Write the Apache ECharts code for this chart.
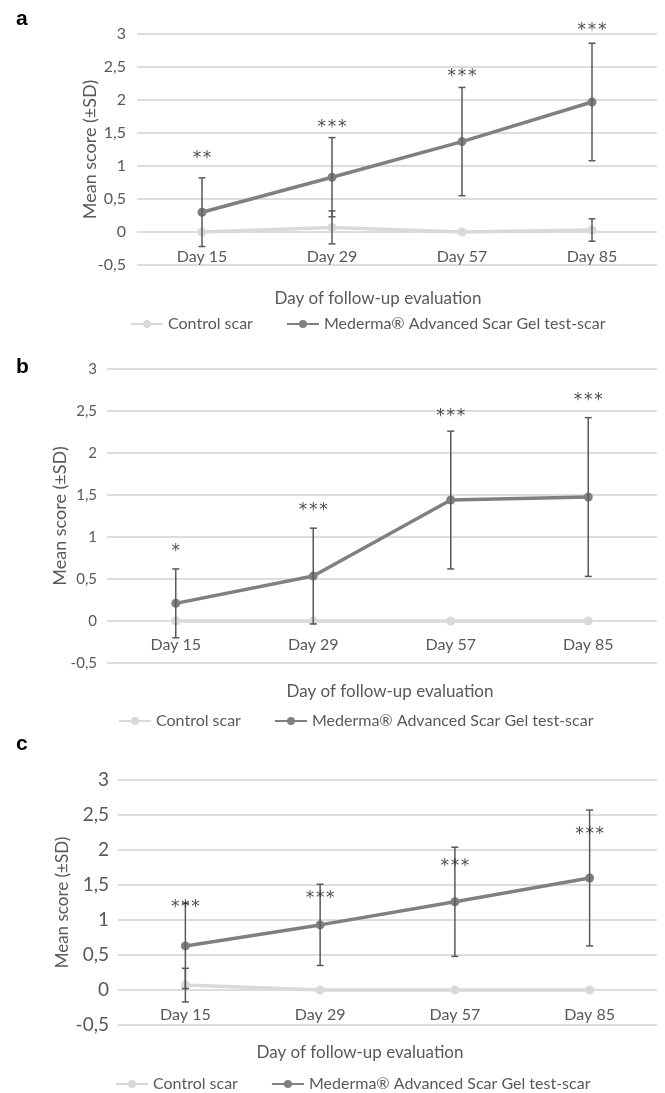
<!DOCTYPE html>
<html>
<head>
<meta charset="utf-8">
<script src="https://cdn.jsdelivr.net/npm/echarts@6/dist/echarts.min.js"></script>
<style>
html,body{margin:0;padding:0;background:#fff;}
#chart{width:665px;height:1093px;}
</style>
</head>
<body>
<div id="chart"></div>
<script>
// ---- data ----
const categories = ['Day 15', 'Day 29', 'Day 57', 'Day 85'];
const seriesNames = ['Control scar', 'Mederma® Advanced Scar Gel test-scar'];
const panelLabels = ['a', 'b', 'c'];
const yMin = -0.5, yMax = 3, yStep = 0.5;

// panel a
const aControl = [0, 0.07, 0, 0.03];
const aControlSD = [0, 0.25, 0, 0.17];
const aMederma = [0.30, 0.83, 1.37, 1.97];
const aMedermaSD = [0.52, 0.60, 0.82, 0.89];
const aStars = ['**', '***', '***', '***'];
const aStarY = [1.17, 1.65, 2.41, 3.12];

// panel b
const bControl = [0, 0, 0, 0];
const bControlSD = [0, 0, 0, 0];
const bMederma = [0.21, 0.535, 1.44, 1.476];
const bMedermaSD = [0.41, 0.57, 0.82, 0.945];
const bStars = ['*', '***', '***', '***'];
const bStarY = [0.87, 1.36, 2.48, 2.67];

// panel c
const cControl = [0.07, 0, 0, 0];
const cControlSD = [0.24, 0, 0, 0];
const cMederma = [0.63, 0.93, 1.26, 1.60];
const cMedermaSD = [0.61, 0.58, 0.78, 0.97];
const cStars = ['***', '***', '***', '***'];
const cStarY = [1.23, 1.37, 1.82, 2.28];

// ---- layout / style ----
const FONT = 'Lato';
const TXT = '#595959';
const CTRL = '#d9d9d9';
const MED = '#808080';
const ERR = '#595959';
const GRIDC = '#d2d2d2';

const panels = [
  {ctrl: aControl, ctrlSD: aControlSD, med: aMederma, medSD: aMedermaSD, stars: aStars, starY: aStarY,
   grid: {left: 137, top: 34, width: 520, height: 231}, yNameGap: 38, yNameSize: 18, yLabelSize: 16, yLabelMargin: 11,
   xLabelMargin: 17, xNameGap: 58, xNamePad: [0, 38, 0, 0], legendTop: 311, legendLeft: 125, letterTop: 9},
  {ctrl: bControl, ctrlSD: bControlSD, med: bMederma, medSD: bMedermaSD, stars: bStars, starY: bStarY,
   grid: {left: 107, top: 369, width: 550, height: 294}, yNameGap: 38, yNameSize: 18, yLabelSize: 15, yLabelMargin: 10,
   xLabelMargin: 16, xNameGap: 62, xNamePad: [0, 0, 0, 16], legendTop: 708, legendLeft: 113, letterTop: 357},
  {ctrl: cControl, ctrlSD: cControlSD, med: cMederma, medSD: cMedermaSD, stars: cStars, starY: cStarY,
   grid: {left: 118, top: 780, width: 539, height: 245}, yNameGap: 47, yNameSize: 17, yLabelSize: 19, yLabelMargin: 9,
   xLabelMargin: 17, xNameGap: 54, xNamePad: [0, 55, 0, 0], legendTop: 1071, legendLeft: 110, letterTop: 734}
];

const grids = [], xAxes = [], yAxes = [], series = [], legends = [], graphics = [];

function errorSeries(idx, means, sds) {
  const data = categories.map((c, i) => [i, means[i] - sds[i], means[i] + sds[i], sds[i]]);
  return {
    type: 'custom', xAxisIndex: idx, yAxisIndex: idx, z: 5, silent: true,
    data: data,
    renderItem: function (params, api) {
      if (api.value(3) <= 0) return;
      const lo = api.coord([api.value(0), api.value(1)]);
      const hi = api.coord([api.value(0), api.value(2)]);
      const x = lo[0], cap = 3.5;
      const st = {stroke: ERR, lineWidth: 1.5};
      return {type: 'group', children: [
        {type: 'line', shape: {x1: x, y1: lo[1], x2: x, y2: hi[1]}, style: st},
        {type: 'line', shape: {x1: x - cap, y1: lo[1], x2: x + cap, y2: lo[1]}, style: st},
        {type: 'line', shape: {x1: x - cap, y1: hi[1], x2: x + cap, y2: hi[1]}, style: st}
      ]};
    }
  };
}

panels.forEach((p, i) => {
  grids.push(Object.assign({containLabel: false}, p.grid));
  // category axis drawn where the value axis crosses 0 (Excel style)
  const zeroOffset = -((0 - yMin) / (yMax - yMin)) * p.grid.height;
  xAxes.push({
    type: 'category', gridIndex: i, data: categories, boundaryGap: true,
    position: 'bottom', offset: zeroOffset,
    axisLine: {show: false, onZero: false}, axisTick: {show: false},
    axisLabel: {color: TXT, fontFamily: FONT, fontSize: 16, margin: p.xLabelMargin},
    name: 'Day of follow-up evaluation', nameLocation: 'middle', nameGap: p.xNameGap, nameMoveOverlap: false,
    nameTextStyle: {color: TXT, fontFamily: FONT, fontSize: 17, padding: p.xNamePad}
  });
  yAxes.push({
    type: 'value', gridIndex: i, min: yMin, max: yMax, interval: yStep,
    axisLine: {show: false}, axisTick: {show: false},
    splitLine: {lineStyle: {color: GRIDC, width: 1.5}},
    axisLabel: {color: TXT, fontFamily: FONT, fontSize: p.yLabelSize, margin: p.yLabelMargin,
      formatter: v => String(v).replace('.', ',')},
    name: 'Mean score (±SD)', nameLocation: 'middle', nameGap: p.yNameGap, nameMoveOverlap: false,
    nameTextStyle: {color: TXT, fontFamily: FONT, fontSize: p.yNameSize}
  });
  series.push({
    name: seriesNames[0], type: 'line', xAxisIndex: i, yAxisIndex: i, data: p.ctrl,
    symbol: 'circle', symbolSize: 9, z: 2,
    lineStyle: {color: CTRL, width: 3.5}, itemStyle: {color: CTRL}
  });
  series.push({
    name: seriesNames[1], type: 'line', xAxisIndex: i, yAxisIndex: i, data: p.med,
    symbol: 'circle', symbolSize: 9, z: 3,
    lineStyle: {color: MED, width: 3.5}, itemStyle: {color: MED}
  });
  series.push(errorSeries(i, p.ctrl, p.ctrlSD));
  series.push(errorSeries(i, p.med, p.medSD));
  series.push({
    type: 'scatter', xAxisIndex: i, yAxisIndex: i, symbolSize: 0, clip: false, silent: true, z: 6,
    data: categories.map((c, k) => ({value: [k, p.starY[k]], label: {formatter: p.stars[k].split('').join('\u200A')}})),
    label: {show: true, position: 'inside', offset: [0, 4], color: '#222', fontFamily: 'DejaVu Sans', fontSize: 17}
  });
  legends.push({
    data: seriesNames, left: p.legendLeft, top: p.legendTop, itemWidth: 32, itemHeight: 10, itemGap: 33,
    textStyle: {color: TXT, fontFamily: FONT, fontSize: 16}, selectedMode: false
  });
  graphics.push({
    type: 'text', left: 16, top: p.letterTop,
    style: {text: panelLabels[i], fontFamily: 'Liberation Sans', fontWeight: 'bold', fontSize: 21, fill: '#000'}
  });
});

const chart = echarts.init(document.getElementById('chart'), null, {renderer: 'canvas'});
chart.setOption({
  backgroundColor: '#fff',
  animation: false,
  grid: grids, xAxis: xAxes, yAxis: yAxes, series: series, legend: legends, graphic: graphics
});
</script>
</body>
</html>
